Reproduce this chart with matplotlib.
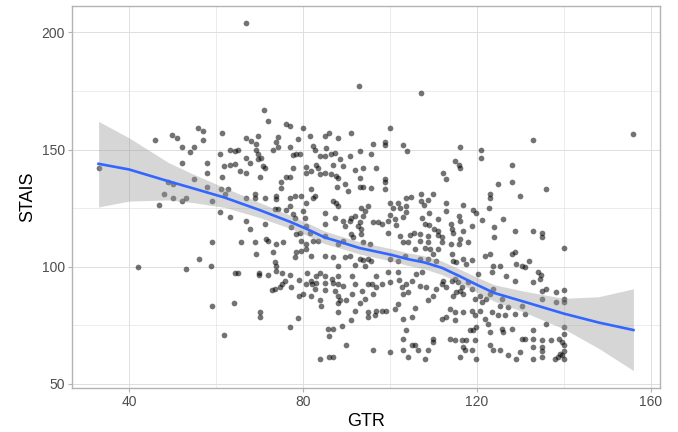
import numpy as np
import matplotlib.pyplot as plt

# ================== DATA ==================
# top strip
gtr_top = [49.8, 55.9, 56.9, 61.3, 67.0, 92.9, 71.0, 71.9, 76.1, 77.0,
           80.1, 86.0, 91.0, 107.1, 100.0, 155.9]
stais_top = [156.4, 159.2, 158.0, 157.1, 203.8, 176.9, 167.0, 162.0, 161.0, 159.9,
             159.0, 157.1, 157.1, 173.9, 159.0, 156.7]

# left side (GTR < 62)
gtr_left = [33.0, 45.9, 51.0, 52.1, 54.0, 55.0, 57.0, 60.9, 61.8, 52.1,
            58.0, 58.0, 61.3, 55.0, 49.0, 50.0, 48.1, 50.0, 52.1, 53.0,
            47.0, 58.0, 59.0, 61.1, 60.9, 59.1, 56.0, 58.8, 42.1, 53.0,
            59.1, 61.8]
stais_left = [142.1, 154.0, 155.0, 151.0, 149.0, 151.0, 154.0, 147.9, 142.9, 144.1,
              144.1, 140.1, 138.2, 137.3, 136.1, 135.1, 131.2, 129.2, 128.0, 129.2,
              126.2, 134.1, 128.0, 133.3, 123.2, 110.4, 103.3, 100.3, 99.7, 99.0,
              83.4, 70.7]

# GTR 62-97, STAIS 100-157
gtr_mid1 = [67.0, 68.1, 69.7, 74.3, 73.9, 78.9, 81.6, 85.0, 88.1, 63.2,
            64.3, 65.1, 69.1, 69.1, 73.1, 74.3, 77.0, 77.7, 79.3, 82.3,
            82.7, 85.4, 85.0, 83.9, 86.5, 87.3, 88.5, 90.8, 93.1, 96.1,
            95.7, 67.0, 69.7, 70.4, 69.7, 67.8, 70.8, 71.2, 63.2, 64.3,
            65.5, 67.0, 70.1, 76.2, 77.0, 75.0, 75.0, 77.7, 78.5, 80.8,
            80.8, 81.9, 83.1, 83.5, 83.9, 85.0, 86.5, 87.7, 88.1, 87.9,
            89.6, 86.9, 89.2, 91.9, 93.8, 93.1, 93.1, 93.8, 95.7, 90.4,
            81.9, 79.6, 82.3, 82.7, 80.8, 78.1, 77.0, 73.9, 73.9, 71.2,
            68.9, 68.9, 67.0, 62.8, 62.0, 63.2, 67.0, 67.8, 71.2, 71.6,
            72.0, 73.9, 73.5, 74.3, 76.2, 77.0, 77.7, 78.1, 80.0, 80.4,
            80.8, 81.6, 77.3, 78.5, 79.3, 79.6, 80.8, 82.3, 83.5, 85.0,
            85.0, 85.0, 86.9, 87.7, 88.1, 87.3, 89.2, 89.6, 90.8, 91.1,
            91.9, 92.7, 93.1, 93.4, 93.8, 94.2, 93.4, 95.0, 96.1, 93.4,
            93.8, 95.4, 91.1, 91.5, 89.2, 88.1, 86.9, 89.6, 90.8, 93.1,
            93.8, 95.0, 95.7, 65.8, 68.9, 69.3, 73.1, 73.5, 73.9, 75.4,
            78.5, 78.1, 79.6, 80.8, 81.9, 85.0, 88.1, 91.9, 94.2]
stais_mid1 = [155.0, 153.6, 155.7, 155.3, 153.3, 154.3, 155.7, 155.7, 155.0, 150.0,
              149.3, 150.0, 149.6, 152.2, 150.0, 151.0, 151.0, 147.6, 147.9, 151.4,
              150.0, 150.7, 147.2, 147.2, 147.9, 148.6, 145.8, 147.2, 149.3, 152.2,
              148.2, 146.5, 147.9, 146.2, 145.8, 144.4, 142.9, 142.2, 143.4, 143.9,
              140.8, 140.1, 138.3, 138.3, 138.3, 136.1, 133.7, 142.2, 147.9, 142.7,
              140.1, 140.8, 143.4, 142.0, 139.7, 140.1, 139.7, 138.7, 137.7, 134.2,
              135.2, 143.6, 142.9, 141.1, 142.2, 138.0, 134.0, 134.0, 133.7, 132.3,
              133.0, 130.2, 129.5, 130.2, 127.4, 130.2, 129.5, 130.2, 128.8, 129.5,
              130.9, 129.2, 129.5, 133.0, 131.2, 121.3, 119.3, 116.0, 118.4, 111.8,
              111.1, 109.7, 124.5, 124.5, 124.1, 125.9, 122.4, 121.0, 123.8, 121.0,
              117.4, 114.6, 116.8, 113.9, 114.6, 111.1, 109.7, 111.1, 111.1, 113.2,
              123.1, 118.1, 128.1, 127.4, 125.9, 121.0, 119.6, 117.4, 119.6, 121.0,
              121.7, 117.4, 118.9, 116.0, 121.7, 123.8, 125.2, 125.9, 118.9, 113.9,
              110.4, 109.7, 113.9, 112.5, 111.1, 109.7, 104.0, 104.0, 104.7, 103.3,
              102.9, 103.3, 102.6, 110.4, 110.4, 105.4, 106.1, 101.9, 100.4, 110.4,
              106.1, 104.0, 106.8, 107.5, 104.7, 104.7, 100.4, 100.9, 100.4]

# GTR 96-131, STAIS 100-154
gtr_mid2 = [98.8, 98.8, 103.1, 104.0, 96.9, 98.8, 98.8, 98.8, 116.1, 120.9,
            120.9, 114.9, 115.9, 116.1, 112.1, 113.0, 128.0, 128.0, 124.9, 123.0,
            123.0, 122.8, 129.9, 104.8, 103.8, 107.1, 110.0, 107.1, 108.8, 107.9,
            100.0, 101.9, 102.3, 103.8, 103.6, 100.8, 109.0, 112.9, 112.9, 116.9,
            119.2, 119.9, 121.1, 124.0, 125.9, 128.8, 124.0, 100.0, 98.1, 97.3,
            99.6, 101.1, 103.1, 101.4, 99.6, 102.3, 104.6, 105.6, 106.9, 106.9,
            104.2, 103.1, 108.8, 108.8, 111.9, 111.9, 114.0, 116.1, 115.9, 117.9,
            108.0, 109.2, 110.0, 111.1, 105.7, 103.4, 100.0, 101.9, 106.9, 108.8,
            110.7, 114.2, 114.6, 115.3, 116.9, 118.8, 117.6, 121.9, 123.0, 123.8,
            125.3, 128.0, 128.8, 129.1, 130.3,
            107.3, 108.0, 109.0, 111.1, 110.2, 111.0, 111.0, 114.0, 114.3, 114.6,
            115.9, 116.1, 116.9, 118.8]
stais_mid2 = [153.3, 152.1, 152.1, 149.3, 142.2, 137.3, 136.1, 133.3, 151.1, 150.0,
              146.2, 145.3, 143.2, 142.2, 140.1, 137.3, 143.2, 136.1, 135.1, 131.2,
              129.5, 125.2, 130.2, 129.9, 129.2, 131.2, 131.2, 128.1, 128.3, 126.2,
              127.4, 127.1, 124.9, 125.9, 123.5, 125.2, 123.1, 127.1, 123.8, 126.2,
              124.1, 123.1, 120.0, 117.1, 120.3, 115.3, 112.5, 122.1, 118.1, 118.9,
              119.6, 120.3, 121.2, 117.9, 114.6, 113.2, 113.6, 114.6, 113.9, 111.1,
              110.4, 110.4, 113.2, 110.4, 112.5, 110.4, 109.6, 111.8, 109.6, 110.4,
              108.2, 107.5, 105.4, 107.5, 107.5, 104.7, 103.3, 102.6, 103.3, 103.3,
              102.6, 105.4, 102.6, 101.9, 103.3, 102.9, 101.1, 104.7, 105.4, 100.4,
              100.4, 105.4, 106.1, 101.1, 100.4,
              121.0, 118.4, 117.9, 120.3, 116.3, 115.3, 113.6, 118.1, 116.0, 114.2,
              121.7, 119.3, 115.3, 117.4]

# right upper (GTR > 131)
gtr_right = [133.0, 135.9, 133.0, 134.9, 135.0, 140.0, 132.0, 131.1]
stais_right = [154.0, 133.3, 115.3, 114.3, 112.5, 108.2, 102.3, 99.7]

# lower band, GTR 62-97
gtr_low1 = [64.3, 65.1, 69.8, 69.8, 72.0, 73.9, 75.1, 77.0, 79.0, 81.0,
            73.5, 72.8, 74.7, 75.1, 75.8, 77.2, 79.0, 80.0, 80.8, 81.8,
            82.1, 82.9, 82.7, 81.9, 83.1, 83.9, 85.0, 85.0, 85.0, 83.9,
            84.1, 86.6, 86.9, 87.3, 88.1, 88.1, 88.1, 88.1, 88.5, 88.1,
            89.2, 90.0, 91.2, 91.9, 91.2, 91.9, 93.1, 93.5, 94.2, 95.0,
            95.8, 96.1, 95.0, 95.0, 91.0, 89.0, 85.8, 86.9, 86.0, 90.0,
            96.2, 84.0, 85.9, 86.9, 78.9, 77.0, 70.1, 70.1, 64.2]
stais_low1 = [97.3, 97.3, 97.3, 96.5, 96.5, 98.3, 97.3, 96.5, 94.5, 97.3,
              90.5, 90.2, 91.2, 92.6, 94.1, 91.2, 87.4, 88.4, 92.6, 94.1,
              92.6, 93.1, 90.5, 87.4, 96.2, 97.3, 96.2, 93.1, 90.2, 85.6,
              83.4, 94.8, 93.1, 89.8, 96.2, 92.6, 87.4, 84.4, 85.6, 80.6,
              91.9, 85.6, 96.2, 92.6, 88.4, 81.3, 84.4, 89.8, 86.3, 92.6,
              92.6, 88.4, 80.6, 78.5, 77.4, 74.7, 73.5, 73.5, 70.4, 66.4,
              64.6, 60.5, 61.5, 61.5, 78.2, 74.5, 80.6, 78.5, 84.4]

# lower band, GTR 96-131
gtr_low2 = [96.9, 98.1, 96.9, 99.6, 100.0, 101.9, 102.1, 102.7, 103.8, 104.2,
            103.1, 105.0, 106.1, 107.3, 106.9, 108.4, 108.8, 110.0, 110.7, 111.9,
            112.3, 113.0, 114.2, 114.9, 115.7, 116.1, 116.9, 115.3, 114.6, 116.5,
            118.0, 118.8, 119.6, 120.7, 121.1, 122.2, 123.0, 123.8, 125.7, 125.3,
            123.4, 124.9, 126.5, 127.2, 128.8, 130.3, 128.8, 126.8, 123.4, 120.3,
            96.5, 96.9, 98.1, 99.2, 101.1, 101.9, 103.1, 105.0, 105.7, 111.9,
            113.0, 113.8, 114.9, 116.9, 118.8, 119.6, 120.7, 121.9, 122.6, 119.9,
            118.4, 119.2, 117.6, 119.6, 123.0, 125.7, 128.0, 126.1, 130.3, 114.9,
            103.8, 103.1, 105.0, 105.7, 106.5, 103.1, 104.2, 100.0, 108.0, 108.8,
            110.0, 110.0, 113.8, 114.9, 116.6, 116.9, 117.2, 118.8, 119.9, 116.1,
            123.0, 123.8, 125.3, 127.2, 129.1, 129.9]
stais_low2 = [96.2, 92.6, 91.2, 97.6, 93.4, 97.6, 94.5, 91.2, 92.6, 89.1,
              88.4, 94.1, 96.9, 97.6, 91.9, 91.2, 85.6, 87.7, 90.5, 92.6,
              94.1, 91.2, 94.1, 94.8, 93.4, 89.8, 88.4, 89.1, 87.7, 91.2,
              93.4, 90.5, 86.3, 87.7, 84.9, 86.3, 88.4, 90.5, 86.3, 83.4,
              80.6, 79.2, 79.2, 82.7, 79.9, 83.4, 94.1, 96.2, 97.6, 96.9,
              79.2, 81.3, 81.3, 81.3, 82.0, 84.2, 77.8, 78.5, 82.3, 77.8,
              78.5, 82.0, 80.6, 80.6, 81.3, 79.2, 81.3, 77.8, 75.7, 74.2,
              72.8, 72.8, 68.6, 68.6, 72.1, 73.5, 73.5, 72.1, 69.3, 77.1,
              72.8, 69.3, 66.4, 66.4, 64.3, 64.6, 61.5, 63.6, 60.8, 64.3,
              69.3, 67.9, 69.3, 68.6, 68.6, 65.7, 64.3, 64.3, 60.8, 61.5,
              66.4, 64.3, 64.3, 62.5, 60.8, 63.6]

# lower right, GTR 131-140
gtr_low3 = [134.1, 134.7, 133.0, 134.5, 134.9, 135.8, 138.1, 140.0, 140.0, 140.0,
            138.1, 134.9, 131.1, 136.0, 140.0, 140.0, 133.0, 131.1, 133.0, 134.9,
            137.0, 139.0, 139.5, 140.0, 133.0, 134.9, 134.9, 140.0, 139.1, 133.0,
            134.9, 138.0, 138.7, 140.0, 139.5]
stais_low3 = [97.6, 96.5, 93.4, 94.8, 89.8, 90.5, 89.4, 90.2, 86.3, 84.9,
              84.9, 86.3, 79.9, 75.7, 74.2, 71.4, 72.8, 69.3, 69.3, 68.6,
              68.6, 69.3, 67.9, 66.4, 65.7, 65.7, 63.9, 63.9, 62.9, 60.8,
              61.5, 60.8, 61.5, 60.8, 62.2]

# smooth (loess) curve and its 95% band
smooth_x = [33, 40, 49, 55, 62, 70, 77, 81, 85, 89, 93, 96.5,
            100.5, 104, 108, 112, 116, 120, 124, 131, 140, 148, 156]
smooth_y = [143.9, 141.5, 136.5, 133.3, 129.5, 124.2, 119.2, 116.0, 112.5, 110.3, 108.0, 106.6,
            105.0, 103.3, 101.8, 99.5, 96.0, 92.3, 88.8, 85.0, 80.0, 76.2, 73.0]
smooth_lo = [125.5, 128.0, 128.5, 127.3, 125.3, 121.0, 116.4, 113.3, 109.8, 107.7, 105.4, 104.0,
             102.4, 100.6, 99.0, 96.6, 93.0, 89.1, 85.3, 80.5, 73.5, 65.2, 55.7]
smooth_hi = [162.0, 155.0, 144.5, 139.3, 133.7, 127.4, 122.0, 118.7, 115.2, 112.9, 110.6, 109.2,
             107.6, 106.0, 104.6, 102.4, 99.0, 95.5, 92.3, 89.5, 86.5, 87.2, 90.6]

gtr = np.array(gtr_top + gtr_left + gtr_mid1 + gtr_mid2 + gtr_right
               + gtr_low1 + gtr_low2 + gtr_low3)
stais = np.array(stais_top + stais_left + stais_mid1 + stais_mid2 + stais_right
                 + stais_low1 + stais_low2 + stais_low3)

# ================== PLOT ==================
plt.rcParams['font.family'] = ['Liberation Sans', 'DejaVu Sans']
fig = plt.figure(figsize=(6.78, 4.32), dpi=100)
ax = fig.add_axes([0.106, 0.102, 0.867, 0.884])

ax.scatter(gtr, stais, s=17, color='black', alpha=0.55, linewidths=0, zorder=2)
ax.fill_between(smooth_x, smooth_lo, smooth_hi, color='#999999', alpha=0.4,
                linewidth=0, zorder=3)
ax.plot(smooth_x, smooth_y, color='#3366FF', lw=1.9, zorder=4)

# ggplot style 5% expansion
xr = gtr.max() - gtr.min()
ax.set_xlim(gtr.min() - 0.05 * xr, gtr.max() + 0.05 * xr)
ymin = min(stais.min(), min(smooth_lo))
ymax = max(stais.max(), max(smooth_hi))
yr = ymax - ymin
ax.set_ylim(ymin - 0.05 * yr, ymax + 0.05 * yr)

ax.set_xticks([40, 80, 120, 160])
ax.set_yticks([50, 100, 150, 200])
ax.set_xticks([60, 100, 140], minor=True)
ax.set_yticks([75, 125, 175], minor=True)
ax.grid(which='major', color='#DEDEDE', lw=0.7, zorder=0)
ax.grid(which='minor', color='#DEDEDE', lw=0.4, zorder=0)
ax.set_axisbelow(True)
for s in ax.spines.values():
    s.set_color('#B3B3B3')
    s.set_linewidth(1.0)
ax.tick_params(which='major', length=3, color='#B3B3B3', labelsize=10,
               labelcolor='#4D4D4D', pad=2)
ax.tick_params(which='minor', length=0)

ax.set_xlabel('GTR', fontsize=13, labelpad=3)
ax.set_ylabel('STAIS', fontsize=13, labelpad=4)

fig.savefig('out.png', dpi=100)
